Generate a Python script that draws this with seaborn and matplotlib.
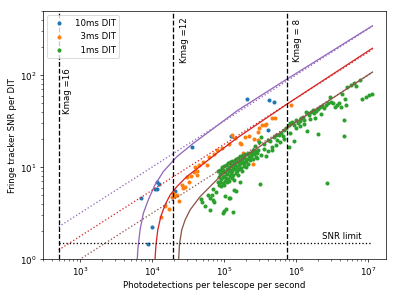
import numpy as np
import pandas as pd
import matplotlib
matplotlib.use('Agg')
import matplotlib.pyplot as plt
import seaborn as sns

# points, kept as log10(photodetections/s) and log10(SNR)
dit10_logN = [3.843, 3.940, 3.996, 4.033, 4.061, 4.070, 4.093, 4.316, 4.557, 5.096,
              5.315, 5.616, 5.691, 5.611]
dit10_logsnr = [0.666, 0.170, 0.354, 0.761, 0.761, 0.843, 0.818, 0.746, 1.224, 1.343,
                1.742, 1.726, 1.713, 1.405]

dit3_logN = [4.117, 4.173, 4.233, 4.270, 4.292, 4.340, 4.372, 4.409, 4.432, 4.455,
             4.487, 4.515, 4.539, 4.581, 4.618, 4.627, 4.655, 4.702, 4.758, 4.786,
             4.850, 4.897, 4.967, 5.058, 5.106, 5.152, 5.212, 5.231, 5.259, 5.291,
             5.337, 5.407, 5.462, 5.398, 5.462, 5.486, 5.524, 5.560, 5.584, 5.663,
             5.709, 5.928, 4.316, 4.595]
dit3_logsnr = [0.457, 0.579, 0.550, 0.680, 0.717, 0.699, 0.634, 0.808, 0.772, 0.783,
               0.898, 0.843, 0.905, 0.946, 0.957, 0.916, 1.028, 1.061, 1.025, 1.115,
               1.141, 1.188, 1.207, 1.253, 1.351, 1.315, 1.261, 1.253, 1.152, 1.333,
               1.340, 1.304, 1.297, 1.033, 1.387, 1.424, 1.460, 1.460, 1.467, 1.533,
               1.533, 1.672, 0.688, 1.007]

dit1_logN = [
    # faint tail
    4.674, 4.688, 4.734, 4.794, 4.836, 4.850, 4.780, 4.841, 4.887, 4.999,
    5.026, 5.114, 5.013, 5.072, 5.162, 5.500, 5.221, 4.804, 4.827, 4.981,
    5.058, 5.128, 6.429,
    # dense group
    4.913, 4.921, 4.909, 4.926, 4.934, 4.941, 4.952, 4.937, 4.958, 4.962,
    4.969, 4.981, 4.975, 4.988, 4.994, 5.001, 5.007, 4.996, 5.013, 5.019,
    5.024, 5.032, 5.037, 5.041, 5.048, 5.055, 5.061, 5.064, 5.072, 5.069,
    5.078, 5.085, 5.091, 5.097, 5.104, 5.109, 5.113, 5.121, 5.128, 5.126,
    5.134, 5.142, 5.147, 5.152, 5.158, 5.166, 5.171, 5.176, 5.183, 5.189,
    5.196, 5.202, 5.207, 5.214, 5.221, 5.227, 5.233, 5.241, 5.248, 5.256,
    5.262, 5.271, 5.279, 5.288, 5.296, 5.307, 5.318, 5.327, 5.338, 5.349,
    5.361, 5.372, 5.386, 5.398, 5.411, 5.425, 5.441, 5.458, 5.474,
    # bright band
    5.245, 5.277, 5.305, 5.337, 5.370, 5.398, 5.430, 5.476, 5.510, 5.546,
    5.556, 5.584, 5.602, 5.639, 5.663, 5.685, 5.713, 5.733, 5.760, 5.788,
    5.816, 5.834, 5.862, 5.894, 5.918, 5.946, 5.964, 5.992, 6.019, 6.047,
    6.067, 6.095, 6.113, 6.131, 6.159, 6.182, 6.206, 6.228, 6.252, 6.280,
    6.304, 6.326, 6.354, 6.382, 6.409, 6.437, 6.465, 6.485, 6.513, 6.535,
    6.559, 6.591, 6.624, 6.638, 6.670, 6.688, 6.708, 6.753, 6.799, 6.823,
    6.883, 6.916, 6.962, 7.008, 7.046, 6.660, 6.660, 6.298, 6.150, 5.964,
    5.894, 5.458, 5.514, 5.611, 5.667, 5.723, 5.779, 5.834, 5.918, 6.001,
    6.057, 6.113, 6.196, 6.266, 6.336]
dit1_logsnr = [
    0.652, 0.626, 0.583, 0.536, 0.645, 0.620, 0.699, 0.761, 0.728, 0.525,
    0.547, 0.517, 0.688, 0.670, 0.746, 0.815, 0.843, 0.663, 0.699, 0.507,
    0.663, 0.753, 0.833,
    0.955, 0.897, 0.842, 0.801, 0.968, 0.921, 0.871, 0.835, 0.790, 0.998,
    0.943, 0.889, 0.826, 0.967, 1.012, 0.905, 0.852, 0.810, 0.951, 1.027,
    0.884, 0.836, 0.978, 0.922, 1.041, 0.869, 0.958, 1.006, 0.903, 0.846,
    1.052, 0.972, 0.931, 1.021, 0.878, 1.064, 0.957, 0.994, 1.047, 0.913,
    0.866, 1.079, 0.985, 1.026, 0.941, 1.091, 1.003, 0.958, 1.055, 0.912,
    1.102, 1.021, 0.977, 1.072, 1.118, 0.996, 1.043, 1.089, 0.962, 1.127,
    1.061, 1.014, 1.101, 1.139, 1.052, 1.088, 1.142, 1.031, 1.113, 1.157,
    1.076, 1.128, 1.161, 1.094, 1.138, 1.171, 1.115, 1.152, 1.183,
    1.098, 1.050, 1.007, 1.087, 1.123, 1.188, 1.232, 1.278, 1.333, 1.253,
    1.202, 1.123, 1.297, 1.286, 1.224, 1.333, 1.351, 1.297, 1.348, 1.370,
    1.340, 1.405, 1.424, 1.460, 1.478, 1.496, 1.457, 1.514, 1.478, 1.507,
    1.533, 1.550, 1.514, 1.601, 1.587, 1.565, 1.604, 1.623, 1.587, 1.609,
    1.630, 1.652, 1.666, 1.641, 1.680, 1.696, 1.761, 1.713, 1.696, 1.659,
    1.680, 1.702, 1.659, 1.797, 1.739, 1.674, 1.876, 1.895, 1.913, 1.884,
    1.949, 1.746, 1.761, 1.783, 1.793, 1.514, 1.340, 1.359, 1.398, 1.289,
    1.217, 1.101, 1.134, 1.177, 1.188, 1.242, 1.275, 1.308, 1.373, 1.427,
    1.449, 1.471, 1.525, 1.536, 1.579]

# model curves
model10_N = [6180, 6280, 6430, 6750, 7500, 8790, 10900, 14200, 21900, 37200,
             70800, 149600, 601000, 1.14e7]
model10_snr = [1.0, 1.26, 1.50, 2.08, 3.16, 4.42, 6.43, 8.95, 13.0, 18.2,
               26.4, 40.9, 81.8, 343.6]
model3_N = [10900, 11100, 11300, 11900, 13100, 15000, 17700, 21900, 30100, 46100,
            78900, 149600, 751600, 1.14e7]
model3_snr = [1.0, 1.26, 1.49, 2.08, 2.90, 3.89, 5.00, 6.15, 7.91, 10.2,
              14.2, 20.7, 48.8, 196]
model1_N = [23200, 23600, 23900, 25600, 28500, 33500, 46100, 63700, 87700, 134300,
            229600, 751600, 1.14e7]
model1_snr = [1.0, 1.26, 1.49, 2.08, 2.67, 3.44, 4.79, 6.18, 7.94, 10.5,
              14.3, 26.8, 108]

photon_N = [500, 1.14e7]
photon10_snr = [2.25, 340]
photon3_snr = [1.26, 190]
photon1_snr = [0.71, 107]

kmag_N = [500, 19500, 750000]
kmag_labels = ['Kmag =16', 'Kmag =12', 'Kmag = 8']
kmag_text_N = [570, 24300, 910000]
kmag_text_snr = [38, 135, 139]

snr_limit = 1.5
snr_limit_N = [500, 1.1e7]

fig, ax = plt.subplots(figsize=(6.4, 4.8))
fig.subplots_adjust(left=0.107, right=0.967, bottom=0.133, top=0.963)

for logN, logsnr, col, lab in [(dit10_logN, dit10_logsnr, 'tab:blue', '10ms DIT'),
                               (dit3_logN, dit3_logsnr, 'tab:orange', '  3ms DIT'),
                               (dit1_logN, dit1_logsnr, 'tab:green', '  1ms DIT')]:
    sns.scatterplot(x=10 ** np.array(logN), y=10 ** np.array(logsnr), color=col,
                    s=22, linewidth=0, label=lab, ax=ax)

for N, snr, col in [(model3_N, model3_snr, 'tab:red'),
                    (model10_N, model10_snr, 'tab:purple'),
                    (model1_N, model1_snr, 'tab:brown')]:
    sns.lineplot(x=N, y=snr, color=col, sort=False, estimator=None, lw=1.5,
                 legend=False, ax=ax)

for snr, col in [(photon3_snr, 'tab:red'), (photon10_snr, 'tab:purple'),
                 (photon1_snr, 'tab:brown')]:
    ax.plot(photon_N, snr, ':', color=col, lw=1.5)

for k, lab, tx, ty in zip(kmag_N, kmag_labels, kmag_text_N, kmag_text_snr):
    ax.axvline(k, color='k', ls='--', lw=1.5)
    ax.text(tx, ty, lab, rotation=90, ha='left', va='bottom')

ax.plot(snr_limit_N, [snr_limit, snr_limit], 'k:', lw=1.5)
ax.text(2.3e6, 1.58, 'SNR limit', ha='left', va='bottom')

ax.set_xscale('log')
ax.set_yscale('log')
ax.set_xlim(300, 1.75e7)
ax.set_ylim(1, 500)
ax.set_xlabel('Photodetections per telescope per second')
ax.set_ylabel('Fringe tracker SNR per DIT')
ax.legend(loc='upper left')

fig.savefig('out.png', dpi=399 / 6.4)
